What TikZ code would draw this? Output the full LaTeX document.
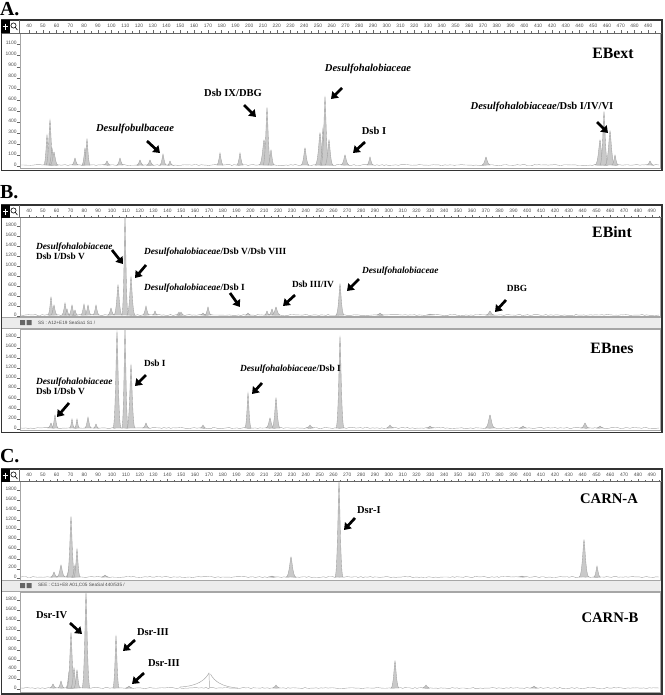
\documentclass[tikz,border=0pt]{standalone}
\usepackage{fontspec}
\setmainfont{Liberation Serif}
\newfontfamily\axisfont{Liberation Sans}
\usetikzlibrary{arrows.meta,decorations.pathmorphing}

\newcommand\ruler[3]{%
  \foreach \v in {40,50,...,490}{
    \node[rulelbl] (#3\v) at ({29+(\v-40)*#2},{#1+6}) {\v};
    \draw[tick] ({29+(\v-40)*#2},{#1+10}) -- ({29+(\v-40)*#2},{#1+12.5});
    \draw[tick] ({29+(\v-35)*#2},{#1+11.3}) -- ({29+(\v-35)*#2},{#1+12.5});
  }}
\newcommand\yaxis[5]{%
  \foreach \v in {0,#5,...,#4}{
    \node[ylbl] (#1\v) at (16.5,{#2-\v/#4*(#2-#3)}) {\v};
    \draw[tick] (16.5,{#2-\v/#4*(#2-#3)+1.5}) -- (19.5,{#2-\v/#4*(#2-#3)+1.5});
  }}
\newcommand\peaks[2]{%
  \foreach \px/\pt/\pw in {#2}
    \filldraw[peak] ({\px-1.6*\pw},#1) .. controls ({\px-0.6*\pw},#1) and ({\px-0.25*\pw},\pt) .. (\px,\pt)
      .. controls ({\px+0.25*\pw},\pt) and ({\px+0.6*\pw},#1) .. ({\px+1.6*\pw},#1) -- cycle;}
\newcommand\corner[1]{%
  \fill (1,#1) rectangle (9.5,{#1+13});
  \draw[white, line width=1.1pt] (2.5,{#1+6.5}) -- (8,{#1+6.5}) (5.25,{#1+3.5}) -- (5.25,{#1+9.5});
  \draw[line width=0.5pt] (13.5,{#1+5.5}) circle (2.6) (15.3,{#1+7.5}) -- (17.5,{#1+10});
  \draw[tick] (19.5,#1) -- (19.5,{#1+13});}
\newcommand\statusbar[2]{%
  \fill[gray!15] (2,#1) rectangle (661,{#1+11});
  \draw[gray!70, line width=0.4pt] (2,#1) -- (661,#1) (2,{#1+11}) -- (661,{#1+11});
  \fill[gray!80!black] (20,{#1+3}) rectangle (25,{#1+8}) (26.5,{#1+3}) rectangle (31.5,{#1+8});
  \node[statlbl] at (38,{#1+5.5}) {#2};}

\begin{document}
\begin{tikzpicture}[x=0.03cm, y=-0.03cm,
    every node/.style={inner sep=0pt, outer sep=0pt},
    tag/.style={font=\fontsize{17}{17}\selectfont\bfseries, anchor=west},
    title/.style={font=\fontsize{13.5}{14}\selectfont\bfseries},
    note/.style={font=\fontsize{9}{9}\selectfont\bfseries, anchor=west},
    smallnote/.style={font=\fontsize{8}{8.5}\selectfont\bfseries, anchor=west, align=left},
    rulelbl/.style={font=\axisfont\fontsize{4.2}{4.2}\selectfont, text=gray!60!black},
    ylbl/.style={font=\axisfont\fontsize{4.2}{4.2}\selectfont, text=gray!60!black, anchor=east},
    statlbl/.style={font=\axisfont\fontsize{4}{4}\selectfont, text=gray!60!black, anchor=west},
    tick/.style={gray!80!black, line width=0.3pt},
    panelframe/.style={draw=black!80, line width=1.1pt},
    plotbox/.style={draw=gray!70, line width=0.5pt},
    peak/.style={fill=gray!42, draw=gray!75, line width=0.3pt},
    trace/.style={gray!70, line width=0.35pt, decorate, decoration={random steps, segment length=2pt, amplitude=0.5pt}},
    fat/.style={line width=2.3pt, -{Triangle[length=5.5pt,width=7.5pt]}}
  ]
  \pgfmathsetseed{11}
  \useasboundingbox (0,0) rectangle (664,695);

  % A
  \node[tag] (labA) at (0,9) {A.};
  \draw[panelframe] (1.5,20) rectangle (662,170.5);
  \draw[plotbox] (20,33) rectangle (660,168);
  \draw[tick] (1.5,33) -- (662,33);
  \corner{20}
  \ruler{20}{1.376}{rA}
  \yaxis{yA}{165}{43}{1100}{100}
  \draw[trace] (21,165) -- (659,165);
  \peaks{165}{47/135/2, 50/120/2.5, 52/148/2, 54/152/2.5, 75/158/2, 85/148/2, 87/139/2, 107/161/2, 120/158/2, 140/160/2, 150/160/2,
    163/154/2, 170/161/1.5, 220/153/2, 240/153/2, 264/140/3, 267/108/2.5, 271/150/2, 305/148/2.5, 320/133/3, 323/128/2,
    325/97/2.5, 329/140/2.5, 345/155/2.5, 370/157/2, 486/157/2.5, 600/140/3, 604/112/2.5, 610/131/3, 615/155/2, 650/161/2}
  \node[title] (EBext) at (613,53) {EBext};
  \node[note, anchor=center] (nA1) at (135,129) {\textit{Desulfobulbaceae}};
  \node[note, anchor=center] (nA2) at (233,93) {Dsb IX/DBG};
  \node[note, anchor=center] (nA3) at (368,69) {\textit{Desulfohalobiaceae}};
  \node[note, anchor=center] (nA4) at (374,131) {Dsb I};
  \node[note, anchor=center] (nA5) at (542,107) {\textit{Desulfohalobiaceae}/Dsb I/IV/VI};
  \coordinate (a1s) at (147,141); \coordinate (a1e) at (160,153);
  \coordinate (a2s) at (244,105); \coordinate (a2e) at (256,117);
  \coordinate (a3s) at (342,88);  \coordinate (a3e) at (331,99);
  \coordinate (a4s) at (365,142); \coordinate (a4e) at (353,153);
  \coordinate (a5s) at (597,122); \coordinate (a5e) at (608,133);
  \foreach \a in {a1,a2,a3,a4,a5} \draw[fat] (\a s) -- (\a e);

  % B
  \node[tag] (labB) at (0,192) {B.};
  \draw[panelframe] (1.5,205) rectangle (662,432.5);
  \draw[plotbox] (20,217) rectangle (660,316);
  \draw[plotbox] (20,329) rectangle (660,430);
  \draw[tick] (1.5,217) -- (662,217);
  \corner{205}
  \ruler{205}{1.384}{rB}
  \statusbar{317}{SS : A12+E19 SeaSa1 S1 /}
  \yaxis{yBt}{315}{225}{1800}{200}
  \yaxis{yBb}{428}{336}{1800}{200}
  \draw[trace] (21,315) -- (659,315);
  \draw[trace] (21,428) -- (659,428);
  \peaks{315}{51/297/2, 54/305/2, 65/303/2, 67/309/1.5, 72/305/2, 75/310/1.5, 84/304/2, 88/305/2, 96/305/2, 111/308/2,
    118/285/2.5, 125/217/2, 131/277/2.5, 146/306/2, 155/311/1.5, 179/312/1.5, 181/312/1.5, 203/313/1.5, 208/307/2,
    248/313/1.5, 267/311/1.5, 272/309/2, 276/307/2.5, 340/284/2.5, 380/313/2, 430/314/2, 490/311/2.5}
  \peaks{428}{51/423/2, 55/415/2, 72/419/1.5, 77/419/1.5, 88/417/2, 96/424/1.5, 117/332/2.5, 125/329/2, 131/365/2.5,
    146/423/2, 203/425/1.5, 248/393/2, 270/418/2.5, 276/398/2.5, 310/425/2, 340/337/2.5, 390/425/2, 430/426/2,
    490/415/3, 523/426/2, 585/423/2.5, 600/426/2}
  \node[title] (EBint) at (612,232) {EBint};
  \node[title] (EBnes) at (612,348) {EBnes};
  \node[smallnote] (nB1) at (36,251) {\textit{Desulfohalobiaceae}\\Dsb I/Dsb V};
  \node[smallnote] (nB2) at (144,252) {\textit{Desulfohalobiaceae}/Dsb V/Dsb VIII};
  \node[smallnote] (nB3) at (144,288) {\textit{Desulfohalobiaceae}/Dsb I};
  \node[smallnote] (nB4) at (292,284) {Dsb III/IV};
  \node[smallnote] (nB5) at (362,271) {\textit{Desulfohalobiaceae}};
  \node[smallnote, anchor=center] (nB6) at (517,288) {DBG};
  \node[smallnote] (nB7) at (36,386) {\textit{Desulfohalobiaceae}\\Dsb I/Dsb V};
  \node[smallnote] (nB8) at (144,363) {Dsb I};
  \node[smallnote] (nB9) at (240,369) {\textit{Desulfohalobiaceae}/Dsb I};
  \coordinate (b1s) at (112,250); \coordinate (b1e) at (123,264);
  \coordinate (b2s) at (146,265); \coordinate (b2e) at (135,278);
  \coordinate (b3s) at (230,293); \coordinate (b3e) at (240,307);
  \coordinate (b4s) at (295,295); \coordinate (b4e) at (283,306);
  \coordinate (b5s) at (359,279); \coordinate (b5e) at (347,291);
  \coordinate (b6s) at (506,300); \coordinate (b6e) at (495,312);
  \coordinate (b7s) at (69,403);  \coordinate (b7e) at (57,417);
  \coordinate (b8s) at (146,375); \coordinate (b8e) at (135,386);
  \coordinate (b9s) at (262,383); \coordinate (b9e) at (252,394);
  \foreach \a in {b1,b2,b3,b4,b5,b6,b7,b8,b9} \draw[fat] (\a s) -- (\a e);

  % C
  \node[tag] (labC) at (0,456) {C.};
  \draw[panelframe] (1.5,469) rectangle (662,694);
  \draw[plotbox] (20,481) rectangle (660,580);
  \draw[plotbox] (20,592) rectangle (660,692);
  \draw[tick] (1.5,481) -- (662,481);
  \corner{469}
  \ruler{469}{1.384}{rC}
  \statusbar{580}{SEE : C11+E8 A01,C05 SeaSal 440/535 /}
  \yaxis{yCt}{577}{489}{1800}{200}
  \yaxis{yCb}{688}{599}{1800}{200}
  \draw[trace] (21,577) -- (659,577);
  \draw[trace] (21,688) -- (659,688);
  \peaks{577}{54/572/2, 61/565/2.5, 69/568/2, 71/517/2.5, 75/565/2, 77/549/2, 105/575/2, 272/576/2, 291/557/3,
    339/482/2.5, 522/576/2, 584/540/3, 597/566/2}
  \peaks{688}{53/684/2, 61/681/2, 69/672/2, 71/633/2.5, 74/668/2, 77/670/2, 86/593/2.5, 116/636/2, 129/686/2,
    276/685/2, 395/661/2.5, 426/685/2, 534/686/2}
  \draw[gray!70, line width=0.4pt] (180,687) .. controls (198,686) and (205,680) .. (209,673) -- (209.5,688)
    (210.5,674) .. controls (214,681) and (222,687) .. (238,688);
  \node[title, font=\fontsize{12.5}{13}\selectfont\bfseries] (carnA) at (609,499) {CARN-A};
  \node[title, font=\fontsize{12.5}{13}\selectfont\bfseries] (carnB) at (610,618) {CARN-B};
  \node[note] (nC1) at (357,510) {Dsr-I};
  \node[note] (nC2) at (36,615) {Dsr-IV};
  \node[note] (nC3) at (137,632) {Dsr-III};
  \node[note] (nC4) at (148,663) {Dsr-III};
  \coordinate (c1s) at (355,518); \coordinate (c1e) at (344,530);
  \coordinate (c2s) at (70,623);  \coordinate (c2e) at (82,634);
  \coordinate (c3s) at (135,640); \coordinate (c3e) at (123,651);
  \coordinate (c4s) at (144,673); \coordinate (c4e) at (132,684);
  \foreach \a in {c1,c2,c3,c4} \draw[fat] (\a s) -- (\a e);
\end{tikzpicture}
\end{document}
